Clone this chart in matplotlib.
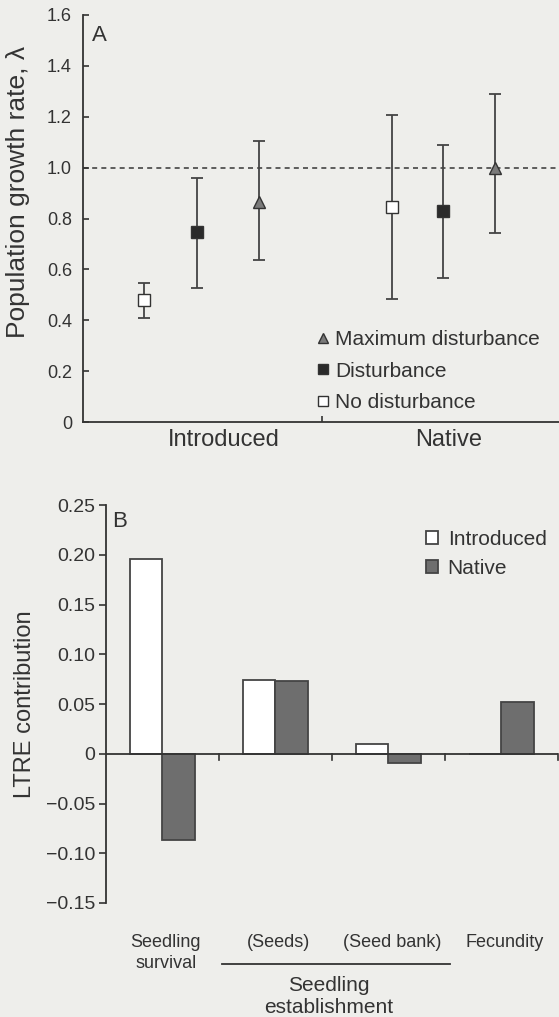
import numpy as np
import matplotlib.pyplot as plt
from matplotlib.lines import Line2D

plt.rcParams['font.family'] = ['Liberation Sans', 'DejaVu Sans']

# Panel A: population growth rate
groups = ['Introduced', 'Native']
treatments = ['No disturbance', 'Disturbance', 'Maximum disturbance']
lam_intro = [0.48, 0.747, 0.865]
lam_intro_lo = [0.41, 0.528, 0.635]
lam_intro_hi = [0.548, 0.96, 1.106]
lam_native = [0.845, 0.83, 1.0]
lam_native_lo = [0.484, 0.566, 0.743]
lam_native_hi = [1.205, 1.09, 1.29]

# Panel B: LTRE contributions
stages = ['Seedling\nsurvival', '(Seeds)', '(Seed bank)', 'Fecundity']
ltre_intro = [0.196, 0.074, 0.0095, 0.0]
ltre_native = [-0.087, 0.073, -0.0095, 0.052]

bg = '#eeeeeb'
ink = '#333333'
fig = plt.figure(figsize=(5.59, 10.17), dpi=100, facecolor=bg)

# ---------------- panel A
axA = fig.add_axes([0.1485, 0.585, 0.855, 0.4003], facecolor=bg)
xpos = [[0.256, 0.479, 0.735], [1.294, 1.508, 1.723]]
markers = ['s', 's', '^']
faces = ['white', '#2a2a2a', '#7a7a7a']
sizes = [8, 8, 9]
for g, (vals, lo, hi) in enumerate([(lam_intro, lam_intro_lo, lam_intro_hi),
                                     (lam_native, lam_native_lo, lam_native_hi)]):
    for i in range(3):
        axA.errorbar(xpos[g][i], vals[i],
                     yerr=[[vals[i] - lo[i]], [hi[i] - vals[i]]],
                     fmt=markers[i], mfc=faces[i], mec='#333333', ms=sizes[i],
                     ecolor='#444444', elinewidth=1.3, capsize=4.5, capthick=1.3,
                     zorder=3)
axA.axhline(1.0, color='#444444', ls=(0, (3, 2.5)), lw=1.2, zorder=1)
axA.set_xlim(0, 2)
axA.set_ylim(0, 1.6)
axA.set_yticks(np.arange(0, 1.61, 0.2))
axA.set_yticklabels(['0'] + [f'{v:.1f}' for v in np.arange(0.2, 1.61, 0.2)])
axA.set_xticks([1])
axA.set_xticklabels([''])
axA.tick_params(direction='in', length=4, width=1.2, colors=ink, labelsize=13)
axA.tick_params(axis='y', pad=8)
for s in ['top', 'right']:
    axA.spines[s].set_visible(False)
for s in ['left', 'bottom']:
    axA.spines[s].set_linewidth(1.3)
    axA.spines[s].set_color(ink)
for xg, name in zip([0.588, 1.529], groups):
    axA.text(xg, -0.07, name, ha='center', va='center', fontsize=17,
             color=ink)
axA.set_ylabel('Population growth rate, λ', fontsize=19, color=ink)
axA.yaxis.set_label_coords(-0.11, 0.565)
axA.text(0.038, 1.52, 'A', fontsize=16, color=ink, va='center')

handlesA = [Line2D([], [], ls='', marker=markers[i], mfc=faces[i], mec='#333333',
                   ms=7) for i in [2, 1, 0]]
axA.legend(handlesA, [treatments[i] for i in [2, 1, 0]], loc='lower left',
           bbox_to_anchor=(0.441, -0.022), frameon=False, fontsize=15,
           handletextpad=0.1, handlelength=1.0, labelspacing=0.6,
           labelcolor=ink)

# ---------------- panel B
axB = fig.add_axes([0.1896, 0.1121, 0.8086, 0.3913], facecolor=bg)
xs = np.arange(len(stages)) + 0.5
w = 0.285
axB.bar(xs - w / 2, ltre_intro, w, color='white', edgecolor='#444444',
        linewidth=1.3, label='Introduced', zorder=2)
axB.bar(xs + w / 2, ltre_native, w, color='#6e6e6e', edgecolor='#444444',
        linewidth=1.3, label='Native', zorder=2)
axB.axhline(0, color=ink, lw=1.3, zorder=3)
for t in [1, 2, 3, 4]:
    axB.plot([t, t], [0, -0.006], color=ink, lw=1.2, clip_on=False, zorder=3)
axB.set_xlim(0, 4)
axB.set_ylim(-0.15, 0.25)
axB.set_yticks(np.arange(-0.15, 0.251, 0.05))
axB.set_yticklabels(['\u22120.15', '\u22120.10', '\u22120.05', '0', '0.05',
                     '0.10', '0.15', '0.20', '0.25'])
axB.set_xticks([])
axB.tick_params(axis='y', direction='out', length=5, width=1.2, colors=ink,
                labelsize=14, pad=3)
for s in ['top', 'right', 'bottom']:
    axB.spines[s].set_visible(False)
axB.spines['left'].set_linewidth(1.3)
axB.spines['left'].set_color(ink)
for x, lab in zip(xs, stages):
    axB.text(x + 0.03, -0.181, lab, ha='center', va='top', fontsize=13,
             color=ink, linespacing=1.3)
axB.plot([1.03, 3.04], [-0.211, -0.211], color=ink, lw=1.3, clip_on=False)
axB.text(1.97, -0.223, 'Seedling\nestablishment', ha='center', va='top',
         fontsize=15, color=ink, linespacing=1.2)
axB.set_ylabel('LTRE contribution', fontsize=17, color=ink)
axB.yaxis.set_label_coords(-0.155, 0.5)
axB.text(0.053, 0.233, 'B', fontsize=16, color=ink, va='center')
axB.legend(loc='upper left', bbox_to_anchor=(0.666, 0.985), frameon=False,
           fontsize=15, handlelength=0.6, handleheight=0.6, handletextpad=0.45,
           labelspacing=0.5, labelcolor=ink)

fig.savefig('out.png', dpi=100, facecolor=bg)
